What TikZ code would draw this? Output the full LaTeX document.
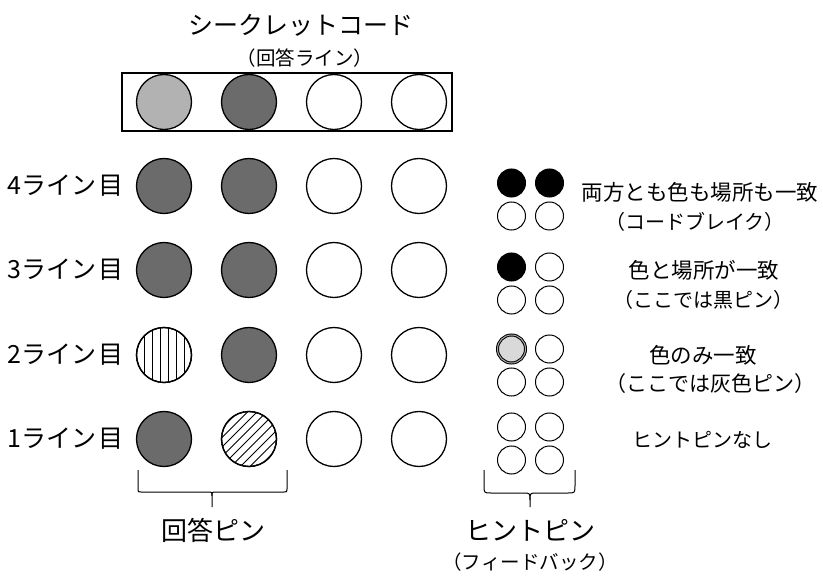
\documentclass[tikz,border=0pt]{standalone}
\usepackage{fontspec}
\setmainfont{Noto Sans CJK JP}
\begin{document}
\begin{tikzpicture}[x=1pt,y=-1pt,
  pin/.style={circle,draw,line width=1.3pt,minimum size=55pt,inner sep=0pt},
  darkpin/.style={pin,fill=black!58},
  lightpin/.style={pin,fill=black!30},
  hpin/.style={circle,draw,line width=1pt,minimum size=28pt,inner sep=0pt},
  hblack/.style={hpin,fill=black},
  hgrey/.style={hpin,fill=black!15,double=black!35,double distance=1pt},
  lbl/.style={inner sep=0pt,font=\fontsize{25}{29}\selectfont},
  desc/.style={inner sep=0pt,font=\fontsize{21.5}{25}\selectfont},
  sub/.style={inner sep=0pt,font=\fontsize{20}{24}\selectfont},
  brace/.style={line width=1pt,line join=round}]
\useasboundingbox (0,0) rectangle (823,580);
% title
\node[inner sep=0pt,font=\fontsize{25}{30}\selectfont] (title) at (301,25) {シークレットコード};
\node[inner sep=0pt,font=\fontsize{19.5}{23}\selectfont] (subtitle) at (305,58) {（回答ライン）};
\node[draw,line width=1.2pt,minimum width=330pt,minimum height=58pt,inner sep=0pt] (box) at (287,102) {};
\node[lightpin] (c1) at (164,102) {};
\node[darkpin] (c2) at (249,102) {};
\node[pin] (c3) at (334,102) {};
\node[pin] (c4) at (419,102) {};
% row labels
\node[lbl,anchor=west] (l4) at (7,186) {4ライン\hspace{0.1em}目};
\node[lbl,anchor=west] (l3) at (7,270) {3ライン\hspace{0.1em}目};
\node[lbl,anchor=west] (l2) at (7,355) {2ライン\hspace{0.1em}目};
\node[lbl,anchor=west] (l1) at (7,439) {1ライン\hspace{0.1em}目};
% row 4
\node[darkpin] (a41) at (164,186) {};
\node[darkpin] (a42) at (249,186) {};
\node[pin] (a43) at (334,186) {};
\node[pin] (a44) at (419,186) {};
% row 3
\node[darkpin] (a31) at (164,270) {};
\node[darkpin] (a32) at (249,270) {};
\node[pin] (a33) at (334,270) {};
\node[pin] (a34) at (419,270) {};
% row 2
\node[pin] (a21) at (164,355) {};
\begin{scope}
\clip (164,355) circle (27.5);
\foreach \dx in {-20,-12,...,20} \draw[line width=0.9pt] (164+\dx,325) -- (164+\dx,385);
\end{scope}
\node[pin] (a21b) at (164,355) {};
\node[darkpin] (a22) at (249,355) {};
\node[pin] (a23) at (334,355) {};
\node[pin] (a24) at (419,355) {};
% row 1
\node[darkpin] (a11) at (164,439) {};
\node[pin] (a12) at (249,439) {};
\begin{scope}
\clip (249,439) circle (27.5);
\foreach \k in {-6,...,6} \draw[line width=1pt] (249+\k*9.5-40,479) -- (249+\k*9.5+40,399);
\end{scope}
\node[pin] (a12b) at (249,439) {};
\node[pin] (a13) at (334,439) {};
\node[pin] (a14) at (419,439) {};
% hint pins
\node[hblack] (h41) at (511.5,183) {};
\node[hblack] (h42) at (549.5,183) {};
\node[hpin] (h43) at (511.5,216) {};
\node[hpin] (h44) at (549.5,216) {};
\node[hblack] (h31) at (511.5,267) {};
\node[hpin] (h32) at (549.5,267) {};
\node[hpin] (h33) at (511.5,300) {};
\node[hpin] (h34) at (549.5,300) {};
\node[hgrey] (h21) at (511.5,349) {};
\node[hpin] (h22) at (549.5,349) {};
\node[hpin] (h23) at (511.5,382) {};
\node[hpin] (h24) at (549.5,382) {};
\node[hpin] (h11) at (511.5,427) {};
\node[hpin] (h12) at (549.5,427) {};
\node[hpin] (h13) at (511.5,460) {};
\node[hpin] (h14) at (549.5,460) {};
% descriptions
\node[desc] (d4) at (700,192) {両方とも色も場所も一致};
\node[sub] (d4s) at (695,222) {（コードブレイク）};
\node[desc] (d3) at (704,270) {色と場所が一致};
\node[sub] (d3s) at (703,300) {（ここでは黒ピン）};
\node[desc] (d2) at (703,355) {色のみ一致};
\node[sub,font=\fontsize{21}{25}\selectfont] (d2s) at (710,384) {（ここでは灰色ピン）};
\node[inner sep=0pt,font=\fontsize{20}{24}\selectfont] (d1) at (702,440) {ヒントピンなし};
% braces
\coordinate (b1l) at (138,470);
\coordinate (b1r) at (287,470);
\coordinate (b1t) at (212,507);
\draw[brace] (b1l) -- (138,489) .. controls (138,492) .. (141,492) -- (208,492) .. controls (212,492) .. (212,496) -- (b1t);
\draw[brace] (b1r) -- (287,489) .. controls (287,492) .. (284,492) -- (216,492) .. controls (212,492) .. (212,496);
\coordinate (b2l) at (484,470);
\coordinate (b2r) at (575,470);
\coordinate (b2t) at (530,507);
\draw[brace] (b2l) -- (484,485) .. controls (484,493) .. (491,493) -- (523,493) .. controls (530,493) .. (530,500) -- (b2t);
\draw[brace] (b2r) -- (575,485) .. controls (575,493) .. (568,493) -- (537,493) .. controls (530,493) .. (530,500);
% bottom labels
\node[inner sep=0pt,font=\fontsize{26}{30}\selectfont] (ans) at (213,530) {回答ピン};
\node[inner sep=0pt,font=\fontsize{26}{30}\selectfont] (hnt) at (530,530) {ヒントピン};
\node[inner sep=0pt,font=\fontsize{19.5}{23}\selectfont] (fb) at (530,562) {（フィードバック）};
\end{tikzpicture}
\end{document}
